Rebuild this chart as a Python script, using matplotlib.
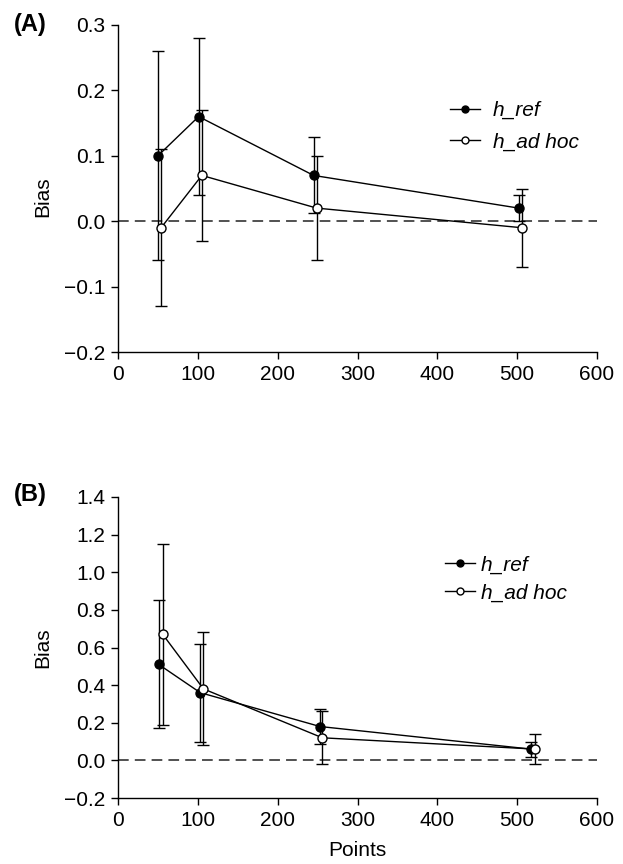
import matplotlib
matplotlib.use("Agg")
import matplotlib.pyplot as plt
from matplotlib.lines import Line2D

plt.rcParams['font.family'] = ['Liberation Sans', 'DejaVu Sans']

# Panel A data
a_x_ref = [50, 101, 245, 502]
a_y_ref = [0.10, 0.16, 0.07, 0.02]
a_e_ref = [0.16, 0.12, 0.058, 0.02]
a_x_adh = [54, 105, 249, 506]
a_y_adh = [-0.01, 0.07, 0.02, -0.01]
a_e_adh = [0.12, 0.10, 0.08, 0.06]

# Panel B data
b_x_ref = [51, 103, 253, 517]
b_y_ref = [0.51, 0.36, 0.18, 0.06]
b_e_ref = [0.34, 0.26, 0.095, 0.04]
b_x_adh = [56, 107, 256, 522]
b_y_adh = [0.67, 0.38, 0.12, 0.06]
b_e_adh = [0.48, 0.30, 0.14, 0.08]

a_yticks = [-0.2, -0.1, 0.0, 0.1, 0.2, 0.3]
b_yticks = [-0.2, 0.0, 0.2, 0.4, 0.6, 0.8, 1.0, 1.2, 1.4]
xticks = [0, 100, 200, 300, 400, 500, 600]
labels = ['h_ref', 'h_ad hoc']

W, H = 623, 864
FS = 15
fig = plt.figure(figsize=(W / 100, H / 100), dpi=100)

def px_axes(l, t, r, b):
    return fig.add_axes([l / W, (H - b) / H, (r - l) / W, (b - t) / H])

axA = px_axes(118, 25, 597, 352)
axB = px_axes(118, 497, 597, 798)

def draw(ax, xr, yr, er, xa, ya, ea, yticks, ylim, legpos, lspace, tpad, ly):
    ax.axhline(0, color='#222222', lw=1.1, ls=(0, (7, 4)), zorder=1)
    ax.errorbar(xr, yr, yerr=er, color='black', lw=1.0, elinewidth=1.0,
                capsize=4, capthick=1.0, marker='o', ms=6.5, mfc='black',
                mec='black', zorder=3)
    ax.errorbar(xa, ya, yerr=ea, color='black', lw=1.0, elinewidth=1.0,
                capsize=4, capthick=1.0, marker='o', ms=6.5, mfc='white',
                mec='black', zorder=4)
    ax.set_xlim(0, 600)
    ax.set_ylim(*ylim)
    ax.set_xticks(xticks)
    ax.set_yticks(yticks)
    ax.set_yticklabels([f"{t:.1f}".replace('-', '\u2212') for t in yticks])
    for s in ['top', 'right']:
        ax.spines[s].set_visible(False)
    for s in ['left', 'bottom']:
        ax.spines[s].set_linewidth(1.0)
    ax.tick_params(direction='out', length=5, width=1.0, labelsize=FS, pad=4)
    ax.set_ylabel('Bias', fontsize=FS)
    ax.yaxis.label.set_va('center')
    ax.yaxis.set_label_coords(-0.157, ly)
    handles = [Line2D([], [], color='black', lw=1.0, marker='o', ms=5,
                      mfc='black', mec='black'),
               Line2D([], [], color='black', lw=1.0, marker='o', ms=5,
                      mfc='white', mec='black')]
    ax.legend(handles, labels, loc='upper left', bbox_to_anchor=legpos,
              frameon=False, prop={'style': 'italic', 'size': FS},
              handlelength=1.45, handletextpad=tpad, labelspacing=lspace,
              borderaxespad=0, borderpad=0)

draw(axA, a_x_ref, a_y_ref, a_e_ref, a_x_adh, a_y_adh, a_e_adh,
     a_yticks, (-0.2, 0.3), (0.693, 0.768), 0.62, 0.6, 0.475)
draw(axB, b_x_ref, b_y_ref, b_e_ref, b_x_adh, b_y_adh, b_e_adh,
     b_yticks, (-0.2, 1.4), (0.683, 0.805), 0.42, 0.25, 0.5)
axB.set_xlabel('Points', fontsize=FS)
axB.xaxis.set_label_coords(0.5, -(850 - 798) / 301)
axB.xaxis.label.set_va('center')

fig.text(14 / W, 1 - 25 / H, '(A)', fontsize=17, fontweight='bold', va='center')
fig.text(14 / W, 1 - 495 / H, '(B)', fontsize=17, fontweight='bold', va='center')

fig.savefig('out.png', dpi=100)
